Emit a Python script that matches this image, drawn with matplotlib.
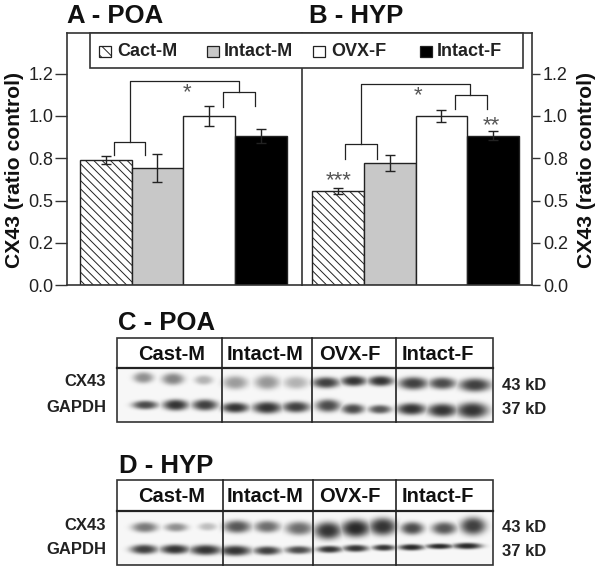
import numpy as np
import matplotlib
matplotlib.use('Agg')
import matplotlib.pyplot as plt
from matplotlib.patches import Rectangle

plt.rcParams['font.family'] = ['Liberation Sans', 'DejaVu Sans']
plt.rcParams['hatch.linewidth'] = 0.7

W, H = 601, 571

groups = ['Cact-M', 'Intact-M', 'OVX-F', 'Intact-F']
blot_groups = ['Cast-M', 'Intact-M', 'OVX-F', 'Intact-F']
poa_means = [0.738, 0.695, 1.0, 0.884]
poa_errs = [0.024, 0.083, 0.059, 0.041]
hyp_means = [0.557, 0.722, 1.0, 0.884]
hyp_errs = [0.020, 0.050, 0.038, 0.025]
yticks = [0, 0.25, 0.5, 0.75, 1.0, 1.25]
yticklabels = ['0.0', '0.2', '0.5', '0.8', '1.0', '1.2']

# band darkness per lane (0 = blank, 1 = black)
poa_cx43 = [.45, .5, .3, .4, .42, .3, .8, .85, .85, .8, .75, .8]
poa_gapdh = [.75, .85, .8, .85, .85, .8, .75, .75, .7, .85, .85, .85]
hyp_cx43 = [.55, .45, .25, .7, .6, .6, .85, .9, .85, .75, .7, .8]
hyp_gapdh = [.8, .85, .85, .85, .8, .75, .85, .85, .85, .9, .9, .9]

# band placement, measured on the 2.6x / 3x zoom of the picture
poa_cx43_x = [373, 450, 530, 612, 695, 770, 848, 920, 990, 1075, 1150, 1235]
poa_cx43_y = [218, 222, 225, 233, 232, 233, 233, 228, 228, 235, 235, 240]
poa_cx43_w = [22, 24, 20, 27, 27, 27, 30, 28, 28, 32, 30, 35]
poa_cx43_h = [14, 15, 12, 17, 18, 16, 14, 13, 13, 16, 15, 17]
poa_gapdh_x = [378, 457, 533, 612, 695, 770, 853, 918, 988, 1070, 1150, 1228]
poa_gapdh_y = [300, 300, 300, 308, 308, 306, 302, 312, 313, 312, 316, 316]
poa_gapdh_w = [28, 28, 28, 30, 32, 30, 27, 25, 25, 32, 33, 35]
poa_gapdh_h = [11, 14, 14, 13, 15, 14, 16, 13, 11, 15, 17, 20]
hyp_cx43_x = [377, 458, 540, 617, 695, 778, 853, 925, 995, 1072, 1155, 1230]
hyp_cx43_y = [262, 262, 260, 260, 260, 265, 272, 265, 260, 265, 265, 258]
hyp_cx43_w = [28, 25, 20, 30, 28, 30, 30, 32, 30, 25, 27, 28]
hyp_cx43_h = [13, 11, 10, 16, 15, 17, 22, 22, 22, 16, 16, 22]
hyp_gapdh_x = [375, 455, 535, 612, 695, 777, 857, 925, 998, 1070, 1143, 1215]
hyp_gapdh_y = [328, 328, 330, 332, 332, 330, 328, 325, 323, 322, 319, 318]
hyp_gapdh_w = [30, 32, 35, 35, 30, 30, 28, 28, 25, 28, 30, 32]
hyp_gapdh_h = [12, 12, 13, 13, 11, 10, 9, 9, 8, 8, 7, 8]

FRAME = '#333333'


def px_axes(fig, left, top, right, bottom):
    return fig.add_axes([left / W, 1 - bottom / H, (right - left) / W, (bottom - top) / H])


def bar_panel(ax, means, errs, xlim):
    styles = [dict(facecolor='white', hatch='\\\\\\\\'),
              dict(facecolor='#c8c8c8'),
              dict(facecolor='white'),
              dict(facecolor='black')]
    for i in range(4):
        ax.bar(i, means[i], 1.0, edgecolor='#222222', linewidth=1.0, **styles[i])
        ax.errorbar(i, means[i], yerr=errs[i], color='#222222', capsize=3.3,
                    elinewidth=1.0, capthick=1.0)
    ax.set_xlim(*xlim)
    ax.set_ylim(0, 1.488)
    ax.set_xticks([])
    ax.set_yticks(yticks)
    ax.set_yticklabels(yticklabels, fontsize=13, color='#222222')
    ax.patch.set_alpha(0)
    for s in ax.spines.values():
        s.set_color(FRAME)
        s.set_linewidth(1.2)


def draw_blot(fig, ov, off, box_top, hdr_bottom, hdr_y, bottom, dividers, rows, side_y):
    # off is the y origin of the zoom crop the band placement was read from
    left, right = 117, 493
    ax = px_axes(fig, left, hdr_bottom, right, bottom)
    nx, ny = (right - left) * 2, (bottom - hdr_bottom) * 2
    xx = (np.arange(nx) + 0.5) / 2 + left
    yy = (np.arange(ny) + 0.5) / 2 + hdr_bottom
    gx, gy = np.meshgrid(xx, yy)
    ink = np.zeros(gx.shape)
    for dark, bx, by, bw, bh in rows:
        for d, x0, y0, w, h in zip(dark, bx, by, bw, bh):
            r2 = ((gx - x0 / 2.6) / (w / 2.6)) ** 2 + ((gy - off - y0 / 3) / (h / 3)) ** 2
            ink = np.maximum(ink, d * np.exp(-r2 ** 1.5 * 0.6))
    ax.imshow(0.97 - 0.9 * ink, cmap='gray', vmin=0, vmax=1, aspect='auto',
              interpolation='bilinear')
    ax.axis('off')
    ov.add_patch(Rectangle((left, box_top), right - left, bottom - box_top, fill=False,
                           edgecolor=FRAME, lw=1.2))
    ov.plot([left, right], [hdr_bottom, hdr_bottom], color='#222222', lw=1.6)
    for d in dividers:
        ov.plot([d, d], [box_top, bottom], color='#222222', lw=1.2)
    for name, cx in zip(blot_groups, [172, 265, 350, 438]):
        ov.text(cx, hdr_y, name, ha='center', va='center', fontsize=14.5, fontweight='bold',
                color='#111111')
    ov.text(106, side_y[0], 'CX43', ha='right', va='center', fontsize=12, fontweight='bold', color='#222222')
    ov.text(106, side_y[1], 'GAPDH', ha='right', va='center', fontsize=12, fontweight='bold', color='#222222')
    ov.text(502, side_y[2], '43 kD', ha='left', va='center', fontsize=12, fontweight='bold', color='#222222')
    ov.text(502, side_y[3], '37 kD', ha='left', va='center', fontsize=12, fontweight='bold', color='#222222')


def main():
    fig = plt.figure(figsize=(W / 100, H / 100), dpi=100)

    ax_a = px_axes(fig, 67.3, 33.3, 301.5, 285.3)
    ax_b = px_axes(fig, 301.5, 33.3, 532, 285.3)
    bar_panel(ax_a, poa_means, poa_errs, (-0.743, 3.784))
    bar_panel(ax_b, hyp_means, hyp_errs, (-0.703, 3.751))
    ax_a.tick_params(axis='y', length=9, width=1.0, color=FRAME, pad=1)
    ax_b.yaxis.tick_right()
    ax_b.tick_params(axis='y', length=6, width=1.0, color=FRAME, pad=2)
    ax_a.spines['right'].set_visible(False)

    ov = fig.add_axes([0, 0, 1, 1])
    ov.set_zorder(5)
    ov.set_xlim(0, W)
    ov.set_ylim(H, 0)
    ov.axis('off')
    ov.patch.set_alpha(0)

    # panel titles
    ov.text(67, 16, 'A - POA', fontsize=18.5, fontweight='bold', va='center', color='#111111')
    ov.text(309, 16, 'B - HYP', fontsize=18.5, fontweight='bold', va='center', color='#111111')
    ov.text(118, 323, 'C - POA', fontsize=18.5, fontweight='bold', va='center', color='#111111')
    ov.text(119, 466, 'D - HYP', fontsize=18.5, fontweight='bold', va='center', color='#111111')

    # axis labels
    ov.text(15, 170, 'CX43 (ratio control)', rotation=90, fontsize=15.2, fontweight='bold',
            ha='center', va='center', color='#111111')
    ov.text(586, 170, 'CX43 (ratio control)', rotation=90, fontsize=15.2, fontweight='bold',
            ha='center', va='center', color='#111111')

    # legend box
    ov.add_patch(Rectangle((90, 33.3), 433, 35, facecolor='white', edgecolor=FRAME, lw=1.2, zorder=3))
    swatches = [dict(facecolor='white', hatch='\\\\\\'), dict(facecolor='#c8c8c8'),
                dict(facecolor='white'), dict(facecolor='black')]
    for name, sx, tx, st in zip(groups, [99, 206.5, 313, 420], [117, 223.5, 331, 437], swatches):
        ov.add_patch(Rectangle((sx, 46), 12, 11, edgecolor='#222222', lw=0.9, zorder=4, **st))
        ov.text(tx, 51, name, fontsize=13, fontweight='bold', va='center', color='#222222', zorder=4)

    # significance brackets
    brackets = [
        ([337, 337, 622, 622], [425, 243, 243, 277]),
        ([296, 296, 377, 377], [465, 425, 425, 465]),
        ([581, 581, 662, 662], [320, 277, 277, 318]),
        ([938, 938, 1223, 1223], [433, 253, 253, 285]),
        ([898, 898, 980, 980], [478, 433, 433, 478]),
        ([1183, 1183, 1265, 1265], [328, 285, 285, 326]),
    ]
    for bx, by in brackets:
        ov.plot(np.array(bx) / 2.6, np.array(by) / 3, color='#222222', lw=0.9)
    for s, sx, sy in [('*', 485, 277), ('*', 1088, 287), ('***', 880, 541), ('**', 1278, 376)]:
        ov.text(sx / 2.6, sy / 3, s, fontsize=16, ha='center', va='center', color='#555555')

    # western blots
    draw_blot(fig, ov, 305, 338, 368, 355, 422, [222, 312, 396],
              [(poa_cx43, poa_cx43_x, poa_cx43_y, poa_cx43_w, poa_cx43_h),
               (poa_gapdh, poa_gapdh_x, poa_gapdh_y, poa_gapdh_w, poa_gapdh_h)],
              [382, 407, 386, 409])
    draw_blot(fig, ov, 440, 480, 511, 497, 565, [223, 313, 396],
              [(hyp_cx43, hyp_cx43_x, hyp_cx43_y, hyp_cx43_w, hyp_cx43_h),
               (hyp_gapdh, hyp_gapdh_x, hyp_gapdh_y, hyp_gapdh_w, hyp_gapdh_h)],
              [525, 549, 528, 552])

    fig.savefig('out.png', dpi=100)


if __name__ == '__main__':
    main()
